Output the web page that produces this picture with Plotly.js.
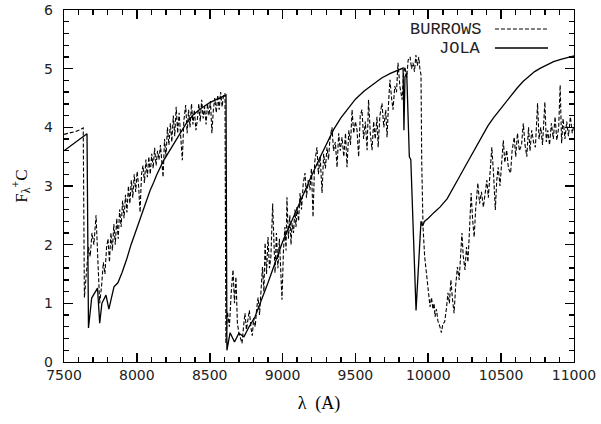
<!DOCTYPE html>
<html>
<head>
<meta charset="utf-8">
<script src="https://cdn.plot.ly/plotly-3.0.1.min.js"></script>
<style>
html,body{margin:0;padding:0;background:#fff;}
#chart{width:601px;height:424px;}
</style>
</head>
<body>
<div id="chart"></div>
<script>
// BURROWS model spectrum (wavelength in Angstrom, flux + C)
const burrowsWave = [
7500,7540,7580,7610,7632,7640,7655,7668,7680,7692,7705,7720,7733,7745,7758,7770,7781,7792,7802,7812,
7822,7832,7842,7852,7862,7872,7882,7892,7902,7912,7922,7932,7942,7952,7962,7972,7982,7992,8002,8012,
8022,8032,8042,8052,8062,8072,8082,8092,8102,8112,8122,8132,8142,8152,8162,8172,8180,8190,8200,8210,
8220,8230,8240,8250,8260,8270,8280,8290,8300,8312,8322,8335,8345,8355,8365,8375,8385,8395,8405,8415,
8425,8435,8445,8455,8465,8475,8485,8495,8505,8515,8525,8535,8545,8555,8565,8575,8585,8595,8605,8611,
8622,8635,8648,8660,8670,8680,8690,8700,8712,8722,8732,8742,8752,8762,8772,8782,8792,8802,8812,8822,
8832,8842,8852,8862,8872,8880,8890,8900,8910,8920,8932,8940,8948,8958,8968,8978,8988,8996,9006,9016,
9024,9030,9040,9050,9058,9065,9075,9085,9092,9099,9110,9120,9130,9142,9154,9164,9176,9188,9198,9209,
9220,9236,9246,9258,9271,9282,9294,9305,9315,9325,9339,9350,9362,9374,9385,9396,9408,9420,9432,9442,
9455,9466,9477,9488,9500,9511,9522,9533,9545,9556,9568,9580,9590,9602,9614,9625,9636,9648,9656,9668,
9682,9695,9708,9717,9727,9737,9748,9758,9770,9782,9792,9805,9820,9830,9840,9852,9862,9875,9885,9895,
9905,9915,9925,9935,9943,9950,9955,9964,9975,9991,10000,10012,10022,10032,10040,10046,10056,10066,10080,10090,
10100,10112,10124,10135,10145,10155,10165,10177,10188,10200,10212,10222,10231,10240,10252,10262,10272,10282,10294,10305,
10315,10325,10340,10352,10365,10378,10390,10402,10412,10424,10436,10448,10460,10470,10480,10492,10505,10515,10525,10538,
10550,10565,10575,10590,10600,10612,10625,10640,10652,10664,10676,10688,10698,10710,10722,10735,10750,10760,10772,10784,
10800,10810,10820,10832,10845,10858,10870,10882,10895,10905,10915,10925,10938,10950,10962,10975,10988,11000
];
const burrowsFlux = [
3.88,3.90,3.93,3.96,3.99,1.10,1.50,1.96,1.80,2.20,2.00,2.50,1.70,1.00,1.30,1.70,1.50,1.95,2.10,1.70,
2.20,1.90,2.35,2.00,2.45,2.10,2.60,2.30,2.75,2.45,2.85,2.55,3.00,2.70,3.10,2.80,3.20,2.90,3.25,3.00,
2.55,3.20,3.35,3.05,3.45,3.15,3.50,3.20,3.55,3.30,3.65,3.35,3.60,3.45,3.70,3.40,3.15,3.80,3.50,4.00,
3.70,4.07,3.75,4.20,3.85,4.35,3.90,4.25,3.80,3.44,4.10,4.38,3.90,4.30,4.00,4.40,4.05,4.30,3.95,4.12,
4.40,4.10,4.47,4.15,4.35,4.05,4.40,4.20,4.45,3.90,4.30,4.50,4.25,4.55,4.30,4.60,4.35,4.55,4.58,0.32,
0.85,0.60,1.20,1.57,1.00,1.45,0.66,0.50,0.40,0.32,0.60,0.83,0.55,0.70,0.88,0.60,0.45,0.75,0.60,0.90,
1.10,0.80,1.30,1.62,1.20,2.03,1.50,2.13,1.60,1.80,2.70,1.90,1.52,2.20,1.60,2.10,1.50,1.06,1.90,2.30,
1.90,2.81,2.10,2.50,2.00,2.37,2.20,2.60,2.30,2.64,2.40,2.88,2.60,3.05,3.22,2.80,3.10,2.93,3.30,2.47,
3.40,3.66,3.20,3.50,2.88,3.55,3.30,3.66,3.45,3.80,4.00,3.60,3.75,3.32,3.90,3.60,3.83,3.50,3.90,3.32,
3.95,3.70,4.30,3.90,4.10,3.95,3.50,4.20,4.30,3.80,4.10,3.61,4.47,3.90,3.61,4.10,3.80,4.18,3.66,4.20,
4.41,4.00,4.30,3.83,4.40,4.81,4.50,4.30,4.70,4.60,5.10,4.70,4.47,4.90,5.03,4.85,5.15,5.20,5.00,5.10,
4.95,5.23,5.05,5.20,4.98,4.90,3.40,2.30,1.80,1.40,1.20,0.94,1.10,0.90,1.00,0.77,0.90,0.70,0.60,0.50,
0.65,0.68,0.90,1.18,1.00,1.40,1.10,0.83,1.30,1.62,1.40,1.90,2.20,1.80,1.57,1.96,1.70,2.20,2.88,2.40,
2.13,2.60,3.05,2.70,2.90,2.64,2.90,3.10,2.80,3.30,3.66,3.20,2.59,3.10,3.32,3.00,3.50,3.78,3.40,3.61,
3.30,3.22,3.60,3.83,3.50,3.90,3.60,3.70,4.07,3.70,3.50,4.00,3.60,3.95,3.75,3.66,4.41,3.80,4.00,3.70,
4.43,3.75,3.95,3.70,4.07,3.80,4.18,3.78,4.00,4.72,3.73,4.15,3.80,4.10,3.85,4.18,3.90,4.05
];
// JOLA model spectrum
const jolaWave = [
7500,7658,7668,7690,7730,7745,7760,7788,7808,7843,7870,7898,7930,7960,8000,8035,8065,8090,8115,8138,
8180,8227,8260,8300,8340,8385,8440,8500,8550,8591,8612,8618,8640,8670,8700,8735,8770,8811,8850,8900,
8950,9000,9050,9100,9150,9200,9250,9300,9350,9400,9450,9500,9560,9620,9680,9740,9790,9827,9833,9840,
9852,9870,9880,9916,9950,9960,9975,10000,10040,10080,10129,10170,10210,10250,10290,10330,10370,10410,10450,10490,
10530,10570,10610,10650,10690,10730,10770,10815,10860,10910,10960,11000
];
const jolaFlux = [
3.60,3.89,0.58,1.09,1.26,0.66,1.00,1.14,0.90,1.28,1.35,1.52,1.75,2.00,2.28,2.54,2.75,2.92,3.06,3.20,
3.42,3.61,3.76,3.93,4.07,4.21,4.32,4.42,4.48,4.52,4.55,0.20,0.50,0.34,0.49,0.43,0.60,0.77,1.02,1.35,
1.70,2.05,2.33,2.62,2.92,3.18,3.45,3.72,3.96,4.16,4.33,4.48,4.62,4.73,4.84,4.92,4.97,5.01,3.95,4.86,
4.93,3.50,3.45,0.88,2.40,2.32,2.40,2.45,2.55,2.64,2.78,2.95,3.14,3.32,3.50,3.69,3.87,4.03,4.17,4.30,
4.43,4.55,4.67,4.78,4.87,4.95,5.01,5.07,5.12,5.16,5.20,5.22
];
const seriesNames = ['BURROWS', 'JOLA'];
const xTitle = 'λ\u00a0\u00a0(A)';
const yTitle = 'F<sub>λ</sub><sup>+</sup>C';

const traces = [
  {x: burrowsWave, y: burrowsFlux, name: seriesNames[0], mode: 'lines', type: 'scatter',
   line: {color: '#000', width: 1.1, dash: '4px,2px'}, showlegend: false},
  {x: jolaWave, y: jolaFlux, name: seriesNames[1], mode: 'lines', type: 'scatter',
   line: {color: '#000', width: 1.3}, showlegend: false}
];

const tickFont = {family: 'DejaVu Sans', size: 14, color: '#222'};
const layout = {
  width: 601, height: 424,
  margin: {l: 64, r: 27, t: 10, b: 62},
  paper_bgcolor: '#fff', plot_bgcolor: '#fff',
  xaxis: {
    range: [7500, 11000], tick0: 7500, dtick: 500, tickformat: 'd',
    ticks: 'inside', ticklen: 9, tickcolor: '#000', tickwidth: 1.6,
    minor: {dtick: 100, ticks: 'inside', ticklen: 5, tickcolor: '#000', tickwidth: 1.3},
    showline: true, linecolor: '#000', linewidth: 1.2, mirror: 'allticks',
    showgrid: false, zeroline: false, tickfont: tickFont,
    title: {text: xTitle, font: {family: 'Liberation Serif', size: 18, color: '#000'}, standoff: 14}
  },
  yaxis: {
    range: [0, 6], tick0: 0, dtick: 1, tickformat: 'd', ticksuffix: '\u2002',
    ticks: 'inside', ticklen: 9, tickcolor: '#000', tickwidth: 1.6,
    minor: {dtick: 0.2, ticks: 'inside', ticklen: 5, tickcolor: '#000', tickwidth: 1.3},
    showline: true, linecolor: '#000', linewidth: 1.2, mirror: 'allticks',
    showgrid: false, zeroline: false, tickfont: tickFont,
    title: {text: yTitle, font: {family: 'Liberation Serif', size: 17, color: '#000'}, standoff: 12}
  },
  annotations: [
    {xref: 'paper', yref: 'paper', x: 0.822, y: 0.946, xanchor: 'right', yanchor: 'middle',
     text: seriesNames[0], showarrow: false, font: {family: 'Liberation Mono', size: 17, color: '#222'}},
    {xref: 'paper', yref: 'paper', x: 0.822, y: 0.892, xanchor: 'right', yanchor: 'middle',
     text: seriesNames[1], showarrow: false, font: {family: 'Liberation Mono', size: 17, color: '#222'}}
  ],
  shapes: [
    {type: 'line', xref: 'paper', yref: 'paper', x0: 0.845, x1: 0.949, y0: 0.946, y1: 0.946,
     line: {color: '#000', width: 1, dash: '4px,2px'}},
    {type: 'line', xref: 'paper', yref: 'paper', x0: 0.845, x1: 0.949, y0: 0.892, y1: 0.892,
     line: {color: '#000', width: 1.3}}
  ]
};
Plotly.newPlot('chart', traces, layout, {staticPlot: true, displayModeBar: false});
</script>
</body>
</html>
